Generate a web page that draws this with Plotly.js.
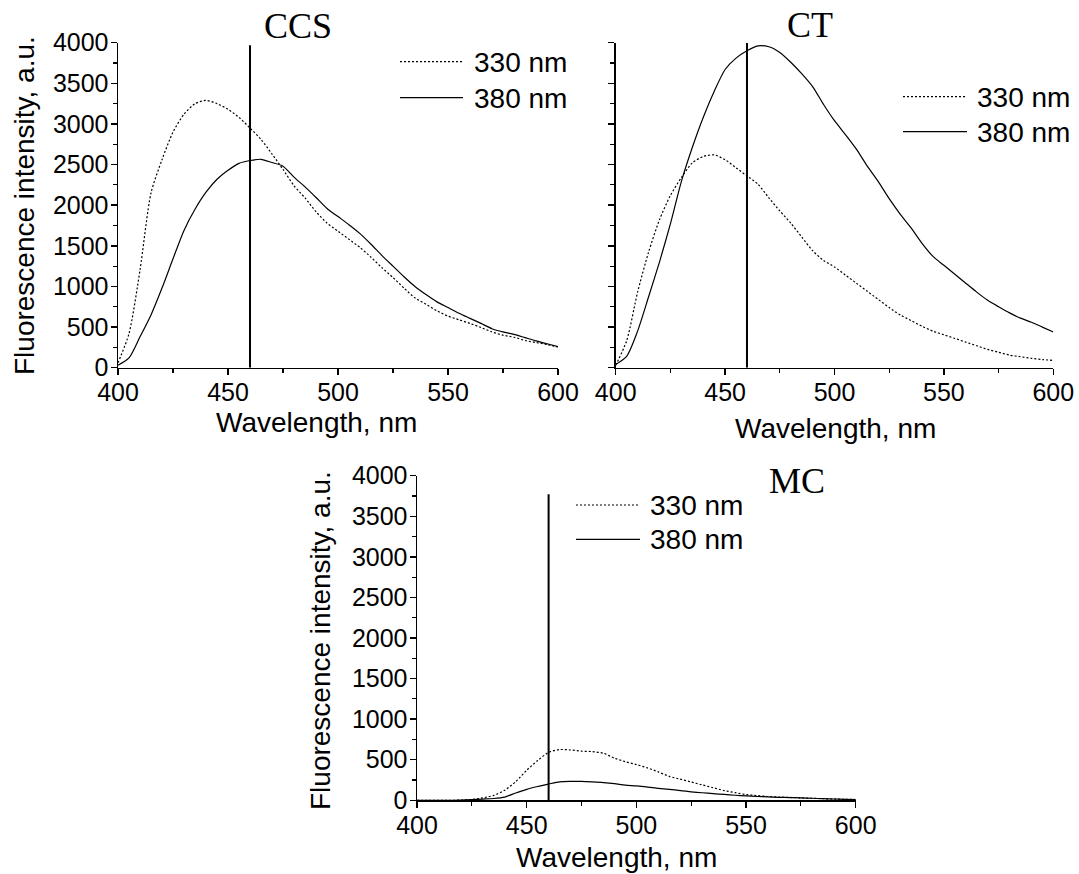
<!DOCTYPE html>
<html>
<head>
<meta charset="utf-8">
<script src="https://cdn.plot.ly/plotly-3.0.1.min.js"></script>
<style>html,body{margin:0;padding:0;background:#fff;}#chart{width:1079px;height:874px;}</style>
</head>
<body>
<div id="chart"></div>
<script>
// Wavelength grid (nm)
const wavelength = [400,405,410,415,420,425,430,435,440,445,450,455,460,465,470,475,480,485,490,495,500,505,510,515,520,525,530,535,540,545,550,555,560,565,570,575,580,585,590,595,600];

// CCS
const ccs330 = [60,420,1200,2150,2560,2900,3120,3250,3290,3250,3180,3080,2950,2810,2630,2440,2240,2090,1920,1780,1680,1580,1480,1360,1230,1110,980,860,780,700,635,590,545,495,440,400,375,335,310,285,255];
const ccs380 = [30,120,380,650,980,1340,1690,1950,2160,2320,2430,2515,2550,2565,2525,2480,2345,2225,2095,1960,1860,1760,1650,1520,1380,1250,1120,1000,900,810,740,670,607,545,480,440,410,370,330,295,260];

// CT
const ct330 = [30,330,930,1420,1820,2120,2340,2520,2600,2620,2560,2460,2360,2260,2090,1930,1780,1610,1440,1320,1240,1140,1040,940,840,740,650,580,510,450,405,360,315,270,225,190,155,135,115,100,90];
const ct380 = [40,140,450,870,1300,1770,2290,2710,3080,3400,3670,3810,3900,3960,3950,3880,3760,3620,3460,3240,3040,2870,2690,2480,2290,2080,1890,1720,1530,1370,1260,1150,1040,930,830,750,675,610,560,500,440];

// MC
const mc330 = [0,0,0,0,2,10,30,60,125,230,370,490,590,625,620,605,600,580,520,475,440,400,350,295,260,225,190,155,120,95,70,58,47,40,35,30,25,20,15,12,10];
const mc380 = [0,0,0,0,2,8,15,22,40,90,135,170,200,228,233,232,226,218,205,186,178,163,148,135,120,105,93,82,72,62,54,47,42,37,34,30,25,20,16,12,10];

const panelTitles = ["CCS", "CT", "MC"];
const seriesNames = ["330 nm", "380 nm"];
const xTitle = "Wavelength, nm";
const yTitle = "Fluorescence intensity, a.u.";
const markerLine = 460;       // vertical marker (nm)
const markerTop = [3970, 4000, 3770];
const xTicks = [400, 450, 500, 550, 600];
const yTicks = [0,500,1000,1500,2000,2500,3000,3500,4000];

const W = 1079, H = 874;
const px = v => v / W;
const py = v => 1 - v / H;

const sans = '"Liberation Sans", Arial, Helvetica, sans-serif';
const serif = '"Liberation Serif", "Times New Roman", Times, serif';

const panels = [
  {x: 'x',  y: 'y',  d330: ccs330, d380: ccs380},
  {x: 'x2', y: 'y2', d330: ct330,  d380: ct380},
  {x: 'x3', y: 'y3', d330: mc330,  d380: mc380}
];

const traces = [];
panels.forEach(p => {
  traces.push({x: wavelength, y: p.d330, xaxis: p.x, yaxis: p.y, type: 'scatter', mode: 'lines',
    name: seriesNames[0], showlegend: false,
    line: {color: 'black', width: 1.2, dash: '2px,2px', shape: 'spline', smoothing: 0.7}});
  traces.push({x: wavelength, y: p.d380, xaxis: p.x, yaxis: p.y, type: 'scatter', mode: 'lines',
    name: seriesNames[1], showlegend: false,
    line: {color: 'black', width: 1.2, shape: 'spline', smoothing: 0.7}});
});

function xax(domain, anchor) {
  return {domain: domain, anchor: anchor, range: [400, 600], showline: true, linecolor: 'black', linewidth: 1.5,
    showgrid: false, zeroline: false, ticks: 'outside', ticklen: 6, tickwidth: 1.5, tickcolor: 'black',
    tickvals: xTicks, tickfont: {family: sans, size: 25, color: 'black'}, ticklabelstandoff: -4,
    minor: {ticks: 'outside', ticklen: 4, tickwidth: 1.2, tickcolor: 'black', dtick: 25, tick0: 400, showgrid: false},
    fixedrange: true};
}
function yax(domain, anchor, labels) {
  return {domain: domain, anchor: anchor, range: [0, 4000], showline: true, linecolor: 'black', linewidth: 1.5,
    showgrid: false, zeroline: false, ticks: 'outside', ticklen: 6, tickwidth: 1.5, tickcolor: 'black',
    tickvals: yTicks, showticklabels: labels, tickfont: {family: sans, size: 25, color: 'black'}, ticklabelstandoff: -3,
    minor: {ticks: 'outside', ticklen: 4, tickwidth: 1.2, tickcolor: 'black', dtick: 250, tick0: 0, showgrid: false},
    fixedrange: true};
}

const topRow = [py(367.7), py(42.7)];
const botRow = [py(800.3), py(475.7)];

const shapes = [];
const annotations = [];

// vertical marker lines
[['x','y'],['x2','y2'],['x3','y3']].forEach((r, i) => {
  shapes.push({type: 'line', xref: r[0], yref: r[1], x0: markerLine, x1: markerLine, y0: 0, y1: markerTop[i],
    line: {color: 'black', width: 2}});
});

// legends (line samples + labels) per panel
const legendPos = [
  {x0: 400, x1: 463, y: [61.7, 97.7], tx: 472},
  {x0: 903, x1: 967, y: [96.7, 131.7], tx: 975},
  {x0: 576, x1: 640, y: [505, 539.3], tx: 648}
];
legendPos.forEach(L => {
  seriesNames.forEach((nm, k) => {
    shapes.push({type: 'line', xref: 'paper', yref: 'paper', x0: px(L.x0), x1: px(L.x1), y0: py(L.y[k]), y1: py(L.y[k]),
      line: {color: 'black', width: 1.2, dash: k === 0 ? '2px,2px' : 'solid'}});
    annotations.push({xref: 'paper', yref: 'paper', x: px(L.tx), y: py(L.y[k] + 0.5), xanchor: 'left', yanchor: 'middle',
      text: nm, showarrow: false, font: {family: sans, size: 28, color: 'black'}});
  });
});

// panel titles
const titlePos = [[298, 26], [810, 24.5], [797, 481]];
panelTitles.forEach((t, i) => {
  annotations.push({xref: 'paper', yref: 'paper', x: px(titlePos[i][0]), y: py(titlePos[i][1]), xanchor: 'center', yanchor: 'middle',
    text: t, showarrow: false, font: {family: serif, size: 36, color: 'black'}});
});

// axis titles
const xTitlePos = [[316, 423], [835, 428], [616, 857]];
xTitlePos.forEach(p => {
  annotations.push({xref: 'paper', yref: 'paper', x: px(p[0]), y: py(p[1]), xanchor: 'center', yanchor: 'middle',
    text: xTitle, showarrow: false, font: {family: sans, size: 28, color: 'black'}});
});
const yTitlePos = [[24, 206], [320, 641]];
yTitlePos.forEach(p => {
  annotations.push({xref: 'paper', yref: 'paper', x: px(p[0]), y: py(p[1]), xanchor: 'center', yanchor: 'middle',
    text: yTitle, textangle: -90, showarrow: false, font: {family: sans, size: 28, color: 'black'}});
});

const layout = {
  width: W, height: H,
  margin: {l: 0, r: 0, t: 0, b: 0},
  paper_bgcolor: 'white', plot_bgcolor: 'white',
  showlegend: false,
  xaxis: xax([px(118), px(558)], 'y'),
  yaxis: yax(topRow, 'x', true),
  xaxis2: xax([px(615.7), px(1053.3)], 'y2'),
  yaxis2: yax(topRow, 'x2', false),
  xaxis3: xax([px(417), px(855.7)], 'y3'),
  yaxis3: yax(botRow, 'x3', true),
  shapes: shapes,
  annotations: annotations
};

Plotly.newPlot('chart', traces, layout, {displayModeBar: false, staticPlot: true});
</script>
</body>
</html>
